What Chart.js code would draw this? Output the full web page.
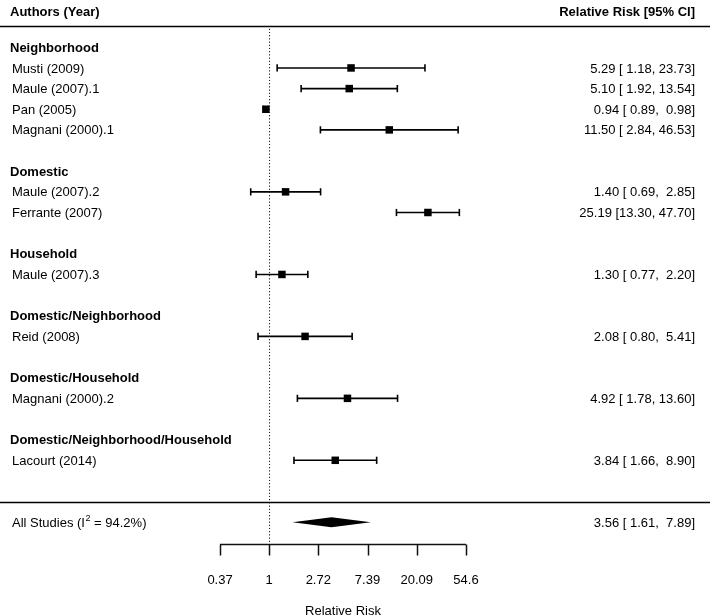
<!DOCTYPE html>
<html><head><meta charset="utf-8">
<script src="https://cdn.jsdelivr.net/npm/chart.js@4"></script>
<style>html,body{margin:0;padding:0;background:#fff}#wrap{width:710px;height:616px;position:relative}</style>
</head><body><div id="wrap"><canvas id="c" width="710" height="616"></canvas></div>
<script>
// ---- data ----
const studies = ["Musti (2009)","Maule (2007).1","Pan (2005)","Magnani (2000).1","Maule (2007).2","Ferrante (2007)","Maule (2007).3","Reid (2008)","Magnani (2000).2","Lacourt (2014)"];
const estimates = [5.29, 5.10, 0.94, 11.50, 1.40, 25.19, 1.30, 2.08, 4.92, 3.84];
const lower = [1.18, 1.92, 0.89, 2.84, 0.69, 13.30, 0.77, 0.80, 1.78, 1.66];
const upper = [23.73, 13.54, 0.98, 46.53, 2.85, 47.70, 2.20, 5.41, 13.60, 8.90];
const studyRows = [1, 2, 3, 4, 7, 8, 11, 14, 17, 20];
const groups = ["Neighborhood","Domestic","Household","Domestic/Neighborhood","Domestic/Household","Domestic/Neighborhood/Household"];
const groupRows = [0, 6, 10, 13, 16, 19];
const summaryLabel = "All Studies";
const summaryI2 = 94.2;
const summaryEst = 3.56, summaryLower = 1.61, summaryUpper = 7.89;
const summaryRow = 23;
const tickValues = [0.37, 1, 2.72, 7.39, 20.09, 54.6];
const tickLabels = ["0.37", "1", "2.72", "7.39", "20.09", "54.6"];
const axisTitle = "Relative Risk";
const headerLeft = "Authors (Year)";
const headerRight = "Relative Risk [95% CI]";

// ---- layout ----
const FAM = '"Liberation Sans", Arial, Helvetica, sans-serif';
const FONT = '13px ' + FAM;
const BOLD = 'bold 13px ' + FAM;
const PX_PER_LN = 49.25, X_ONE = 269;
const ROW0 = 47.3, ROWH = 20.65;
const TXT_DY = 1;

function pad5(v){ let s = v.toFixed(2); while (s.length < 5) s = ' ' + s; return s; }
function ciText(e,l,h){ return e.toFixed(2) + ' [' + pad5(l) + ', ' + pad5(h) + ']'; }

const datasets = [];
studies.forEach((s, i) => {
  datasets.push({
    type: 'line',
    data: [{x: lower[i], y: studyRows[i]}, {x: upper[i], y: studyRows[i]}],
    borderColor: '#000', borderWidth: 1.6, pointRadius: 0, showLine: true, fill: false
  });
});
datasets.push({
  type: 'scatter',
  data: lower.map((v, i) => ({x: v, y: studyRows[i]})).concat(upper.map((v, i) => ({x: v, y: studyRows[i]}))),
  pointStyle: 'line', rotation: 90, pointRadius: 3.6,
  borderColor: '#000', backgroundColor: '#000', borderWidth: 1.6
});
datasets.push({
  type: 'scatter',
  data: estimates.map((v, i) => ({x: v, y: studyRows[i]})),
  pointStyle: 'rect', pointRadius: 5.3,
  borderColor: '#000', backgroundColor: '#000', borderWidth: 0
});

const forestPlugin = {
  id: 'forest',
  afterDatasetsDraw(chart) {
    const ctx = chart.ctx, xs = chart.scales.x, ys = chart.scales.y;
    const W = chart.width;
    const yRow = r => ys.getPixelForValue(r);
    const yTxt = r => ys.getPixelForValue(r) + TXT_DY;
    ctx.save();
    ctx.fillStyle = '#000';
    ctx.strokeStyle = '#000';
    ctx.textBaseline = 'middle';

    // headers
    ctx.font = BOLD;
    ctx.textAlign = 'left';
    ctx.fillText(headerLeft, 10, yTxt(-1.76));
    ctx.textAlign = 'right';
    ctx.fillText(headerRight, 695, yTxt(-1.76));

    // separator lines
    ctx.lineWidth = 1.6;
    ctx.beginPath();
    ctx.moveTo(0, Math.round(yRow(-1.03)) + 0.5); ctx.lineTo(W, Math.round(yRow(-1.03)) + 0.5);
    ctx.moveTo(0, Math.round(yRow(22.02)) + 0.5); ctx.lineTo(W, Math.round(yRow(22.02)) + 0.5);
    ctx.stroke();

    // reference dotted line at 1
    const x1 = Math.round(xs.getPixelForValue(1)) + 0.5;
    ctx.save();
    ctx.lineWidth = 1.1;
    ctx.strokeStyle = '#222';
    ctx.setLineDash([1.2, 2]);
    ctx.beginPath();
    ctx.moveTo(x1, yRow(-0.9));
    ctx.lineTo(x1, yRow(24.05));
    ctx.stroke();
    ctx.restore();

    // group labels
    ctx.font = BOLD;
    ctx.textAlign = 'left';
    groups.forEach((g, i) => ctx.fillText(g, 10, yTxt(groupRows[i])));

    // study labels and values
    ctx.font = FONT;
    studies.forEach((s, i) => {
      ctx.textAlign = 'left';
      ctx.fillText(s, 12, yTxt(studyRows[i]));
      ctx.textAlign = 'right';
      ctx.fillText(ciText(estimates[i], lower[i], upper[i]), 695, yTxt(studyRows[i]));
    });

    // summary row
    const ySum = yRow(summaryRow);
    const ySumT = yTxt(summaryRow);
    ctx.textAlign = 'left';
    let t1 = summaryLabel + ' (I';
    ctx.fillText(t1, 12, ySumT);
    let xx = 12 + ctx.measureText(t1).width;
    ctx.font = '9px ' + FAM;
    ctx.fillText('2', xx + 0.5, ySumT - 5);
    xx += ctx.measureText('2').width + 0.5;
    ctx.font = FONT;
    ctx.fillText(' = ' + summaryI2.toFixed(1) + '%)', xx, ySumT);
    ctx.textAlign = 'right';
    ctx.fillText(ciText(summaryEst, summaryLower, summaryUpper), 695, ySumT);

    // diamond
    const dl = xs.getPixelForValue(summaryLower), de = xs.getPixelForValue(summaryEst), dh = xs.getPixelForValue(summaryUpper);
    ctx.beginPath();
    ctx.moveTo(dl, ySum);
    ctx.lineTo(de, ySum - 5);
    ctx.lineTo(dh, ySum);
    ctx.lineTo(de, ySum + 5);
    ctx.closePath();
    ctx.fill();

    // bottom axis
    const yAx = Math.round(yRow(24.05)) + 0.5;
    const xa = xs.getPixelForValue(tickValues[0]), xb = xs.getPixelForValue(tickValues[tickValues.length - 1]);
    ctx.lineWidth = 1.5;
    ctx.strokeStyle = '#111';
    ctx.beginPath();
    ctx.moveTo(xa, yAx); ctx.lineTo(xb, yAx);
    tickValues.forEach(v => {
      const px = Math.round(xs.getPixelForValue(v)) + 0.5;
      ctx.moveTo(px, yAx); ctx.lineTo(px, yAx + 11);
    });
    ctx.stroke();
    ctx.font = FONT;
    ctx.textAlign = 'center';
    tickValues.forEach((v, i) => ctx.fillText(tickLabels[i], xs.getPixelForValue(v), yTxt(25.75)));
    ctx.fillText(axisTitle, (xa + xb) / 2, yTxt(27.25));
    ctx.restore();
  }
};

new Chart(document.getElementById('c'), {
  type: 'scatter',
  data: { datasets },
  options: {
    responsive: false,
    animation: false,
    events: [],
    layout: { padding: 0, autoPadding: false },
    plugins: { legend: { display: false }, tooltip: { enabled: false } },
    scales: {
      x: { type: 'logarithmic', display: false,
           min: Math.exp(-X_ONE / PX_PER_LN), max: Math.exp((710 - X_ONE) / PX_PER_LN) },
      y: { type: 'linear', display: false, reverse: true,
           min: -ROW0 / ROWH, max: (616 - ROW0) / ROWH }
    }
  },
  plugins: [forestPlugin]
});
</script>
</body></html>
